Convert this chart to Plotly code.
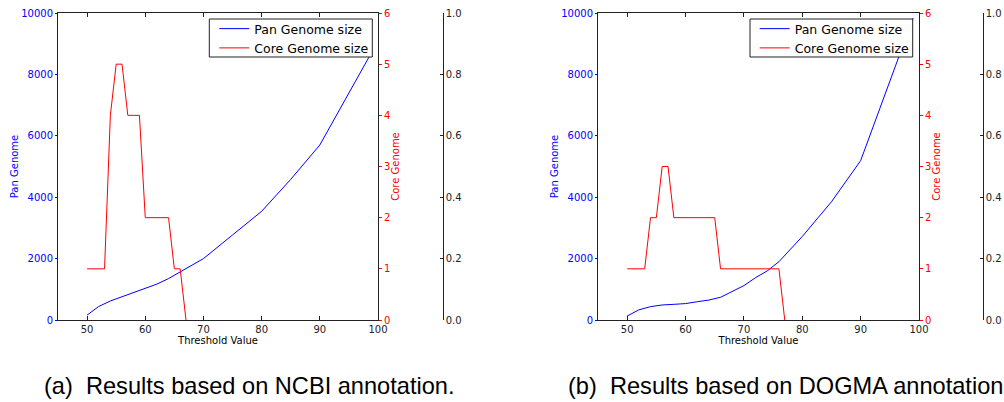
import plotly.graph_objects as go

W, H = 1004, 402

# ---------------- data ----------------
# (a) NCBI annotation
pan_a_x = [50, 52, 54, 56, 58, 60, 62, 64, 66, 68, 70, 75, 80, 85, 90, 99]
pan_a_y = [160, 440, 620, 760, 900, 1020, 1170, 1350, 1570, 1770, 2000, 2770, 3540, 4580, 5700, 8750]
core_a_x = [50, 51, 52, 53, 54, 55, 56, 57, 58, 59, 60, 61, 62, 63, 64, 65, 66, 67]
core_a_y = [1, 1, 1, 1, 4, 5, 5, 4, 4, 4, 2, 2, 2, 2, 2, 1, 1, 0]

# (b) DOGMA annotation
pan_b_x = [50, 52, 54, 56, 58, 60, 62, 64, 66, 68, 70, 72, 74, 76, 78, 80, 85, 90, 99]
pan_b_y = [130, 330, 435, 490, 510, 535, 595, 650, 740, 920, 1120, 1380, 1600, 1900, 2300, 2720, 3850, 5190, 9840]
core_b_x = [50, 51, 52, 53, 54, 55, 56, 57, 58, 59, 60, 61, 62, 63, 64, 65,
            66, 67, 68, 69, 70, 71, 72, 73, 74, 75, 76, 77]
core_b_y = [1, 1, 1, 1, 2, 2, 3, 3, 2, 2, 2, 2, 2, 2, 2, 2,
            1, 1, 1, 1, 1, 1, 1, 1, 1, 1, 1, 0]

x_ticks = [50, 60, 70, 80, 90, 100]
pan_ticks = [0, 2000, 4000, 6000, 8000, 10000]
core_ticks = [0, 1, 2, 3, 4, 5, 6]
extra_ticks = [0.0, 0.2, 0.4, 0.6, 0.8, 1.0]

captions = ["(a)  Results based on NCBI annotation.", "(b)  Results based on DOGMA annotation."]
series_names = ["Pan Genome size", "Core Genome size"]

# ---------------- layout helpers ----------------
FONT = "DejaVu Sans"
BLUE = "#0000ff"
RED = "#ff0000"
AX = "#222222"

def px_x(p):
    return p / W

def px_y(p):
    return 1 - p / H

panels = [
    dict(x0=58, x1=378, free=442.7, leg=(209.3, 19, 372.3, 57), cap_x=42),
    dict(x0=598, x1=919, free=982.7, leg=(750, 19, 912.7, 57), cap_x=566),
]
top, bottom = 13, 320

fig = go.Figure()

data = [(pan_a_x, pan_a_y, core_a_x, core_a_y), (pan_b_x, pan_b_y, core_b_x, core_b_y)]

layout = dict(
    template="none",
    width=W, height=H,
    margin=dict(l=0, r=0, t=0, b=0, pad=0, autoexpand=False),
    paper_bgcolor="white", plot_bgcolor="white",
    font=dict(family=FONT, size=10, color="black"),
    showlegend=True,
)

annotations = []
shapes = []
for i, (p, d) in enumerate(zip(panels, data)):
    xa = "x" if i == 0 else "x2"
    xkey = "xaxis" if i == 0 else "xaxis2"
    yb = 3 * i + 1
    ya_pan = "y" if yb == 1 else f"y{yb}"
    ya_core = f"y{yb + 1}"
    ya_free = f"y{yb + 2}"
    leg = "legend" if i == 0 else "legend2"

    fig.add_trace(go.Scatter(x=d[0], y=d[1], mode="lines", name=series_names[0],
                             line=dict(color=BLUE, width=1), xaxis=xa, yaxis=ya_pan, legend=leg))
    fig.add_trace(go.Scatter(x=d[2], y=d[3], mode="lines", name=series_names[1],
                             line=dict(color=RED, width=1), xaxis=xa, yaxis=ya_core, legend=leg))
    fig.add_trace(go.Scatter(x=[None], y=[None], mode="lines", showlegend=False,
                             xaxis=xa, yaxis=ya_free, hoverinfo="skip"))

    dom_x = [px_x(p["x0"]), px_x(p["x1"])]
    dom_y = [px_y(bottom), px_y(top)]

    common = dict(showgrid=False, zeroline=False, automargin=False, showline=True,
                  linecolor=AX, linewidth=1, ticklabelstandoff=0)

    layout[xkey] = dict(
        domain=dom_x, range=[45, 100], anchor=ya_pan,
        tickvals=x_ticks, ticks="inside", ticklen=4, tickcolor=AX, mirror="ticks",
        tickfont=dict(size=10, color="#222"),
        title=dict(text="Threshold Value", font=dict(size=10, color="black"), standoff=2),
        **common,
    )
    ykey_pan = "yaxis" if yb == 1 else f"yaxis{yb}"
    layout[ykey_pan] = dict(
        domain=dom_y, range=[0, 10000], anchor=xa,
        tickvals=pan_ticks, tickformat="d", ticks="outside", ticklen=2, tickcolor=BLUE,
        tickfont=dict(size=10, color=BLUE),
        title=dict(text="Pan Genome", font=dict(size=10, color=BLUE), standoff=0),
        **common,
    )
    layout[f"yaxis{yb + 1}"] = dict(
        overlaying=ya_pan, side="right", anchor=xa, range=[0, 6],
        tickvals=core_ticks, ticks="outside", ticklen=3, tickcolor=RED,
        tickfont=dict(size=10, color=RED),
        title=dict(text="Core Genome", font=dict(size=10, color=RED), standoff=2),
        **common,
    )
    layout[f"yaxis{yb + 2}"] = dict(
        overlaying=ya_pan, side="right", anchor="free", position=px_x(p["free"]),
        range=[0, 1], tickvals=extra_ticks, tickformat=".1f",
        ticks="inside", ticklen=3, tickcolor=AX,
        tickfont=dict(size=10, color="#222"),
        **common,
    )
    lx0, ly0, lx1, ly1 = p["leg"]
    # legend frame (white, black border) drawn above the traces
    shapes.append(dict(type="rect", xref="paper", yref="paper",
                       x0=px_x(lx0), x1=px_x(lx1), y0=px_y(ly1), y1=px_y(ly0),
                       line=dict(color="#222", width=1), fillcolor="white", layer="above"))
    layout[leg] = dict(
        x=px_x(lx1 + 2), xanchor="right", y=px_y(ly0 - 5), yanchor="top",
        bgcolor="rgba(0,0,0,0)", borderwidth=0,
        font=dict(family=FONT, size=12.5, color="black"),
        tracegroupgap=0, itemwidth=30,
    )
    annotations.append(dict(
        text=captions[i], xref="paper", yref="paper",
        x=px_x(p["cap_x"]), y=px_y(386), xanchor="left", yanchor="middle",
        showarrow=False, font=dict(family="Liberation Sans", size=23.6, color="black"),
    ))

layout["annotations"] = annotations
layout["shapes"] = shapes
fig.update_layout(**layout)
fig.write_html("out.html", post_script="document.body.style.margin='0';",
               config={"displayModeBar": False})
